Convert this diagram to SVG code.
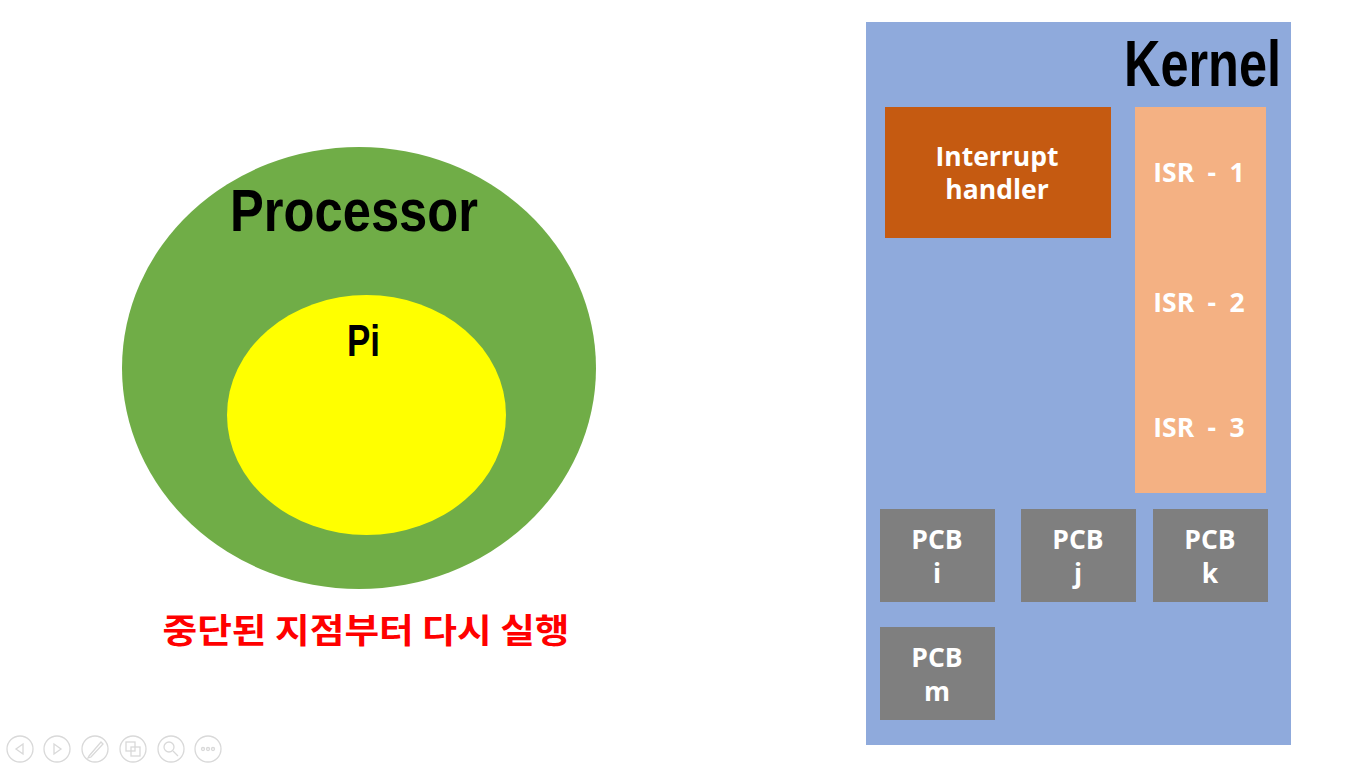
<svg xmlns="http://www.w3.org/2000/svg" width="1366" height="768" viewBox="0 0 1366 768">
<style>
.lbl{font-family:"Open Sans","Noto Sans",sans-serif;font-weight:bold;font-size:26.5px;fill:#fff;text-anchor:middle}
.isr{word-spacing:6.5px}
.title{font-family:"Liberation Sans",sans-serif;font-weight:bold;fill:#000}
.pcb{fill:#7f7f7f}
.ui{fill:none;stroke:#d9d9d9;stroke-width:1.3}
</style>
<rect width="1366" height="768" fill="#fff"/>
<g id="processor">
<ellipse cx="359" cy="368" rx="237" ry="221" fill="#70ad47"/>
<text class="title" x="354" y="231" font-size="60" text-anchor="middle" textLength="248" lengthAdjust="spacingAndGlyphs">Processor</text>
</g>
<g id="pi">
<ellipse cx="366.5" cy="415" rx="139.5" ry="120" fill="#ffff00"/>
<text class="title" x="363.5" y="356" font-size="45" text-anchor="middle" textLength="33" lengthAdjust="spacingAndGlyphs">Pi</text>
</g>
<g id="caption">
<text x="366" y="643" font-family="'Noto Sans CJK KR',sans-serif" font-weight="bold" font-size="34" fill="#ff0000" text-anchor="middle" textLength="407" lengthAdjust="spacingAndGlyphs">중단된 지점부터 다시 실행</text>
</g>
<g id="kernel">
<rect x="866" y="22" width="425" height="723" fill="#8faadc"/>
<text class="title" x="1281" y="86" font-size="64" text-anchor="end" textLength="157" lengthAdjust="spacingAndGlyphs">Kernel</text>
</g>
<g id="interrupt-handler">
<rect x="885" y="107" width="226" height="131" fill="#c55a11"/>
<text class="lbl" x="997" y="166">Interrupt</text>
<text class="lbl" x="997" y="199">handler</text>
</g>
<g id="isr">
<rect x="1135" y="107" width="131" height="386" fill="#f4b183"/>
<text class="lbl isr" x="1199" y="182">ISR - 1</text>
<text class="lbl isr" x="1199" y="312">ISR - 2</text>
<text class="lbl isr" x="1199" y="437">ISR - 3</text>
</g>
<g id="pcb-i">
<rect class="pcb" x="880" y="509" width="115" height="93"/>
<text class="lbl" x="937" y="549">PCB</text>
<text class="lbl" x="937" y="583">i</text>
</g>
<g id="pcb-j">
<rect class="pcb" x="1021" y="509" width="115" height="93"/>
<text class="lbl" x="1078" y="549">PCB</text>
<text class="lbl" x="1078" y="583">j</text>
</g>
<g id="pcb-k">
<rect class="pcb" x="1153" y="509" width="115" height="93"/>
<text class="lbl" x="1210" y="549">PCB</text>
<text class="lbl" x="1210" y="583">k</text>
</g>
<g id="pcb-m">
<rect class="pcb" x="880" y="627" width="115" height="93"/>
<text class="lbl" x="937" y="667">PCB</text>
<text class="lbl" x="937" y="701">m</text>
</g>
<g id="connectors"/>
<g id="toolbar">
<circle class="ui" cx="20" cy="749" r="13"/>
<path class="ui" d="M23 744 L16 749 L23 754 Z"/>
<circle class="ui" cx="57" cy="749" r="13"/>
<path class="ui" d="M54 744 L61 749 L54 754 Z"/>
<circle class="ui" cx="95" cy="749" r="13"/>
<path class="ui" d="M89 756 L101 742 L103 744 L91 757 L88 758 Z"/>
<circle class="ui" cx="133" cy="749" r="13"/>
<rect class="ui" x="126" y="742" width="9" height="9"/>
<rect class="ui" x="131" y="747" width="9" height="9"/>
<circle class="ui" cx="171" cy="749" r="13"/>
<circle class="ui" cx="169" cy="747" r="5"/>
<path class="ui" d="M173 751 L178 756"/>
<circle class="ui" cx="208" cy="749" r="13"/>
<circle class="ui" cx="203" cy="749" r="1.5"/>
<circle class="ui" cx="208" cy="749" r="1.5"/>
<circle class="ui" cx="213" cy="749" r="1.5"/>
</g>
</svg>
